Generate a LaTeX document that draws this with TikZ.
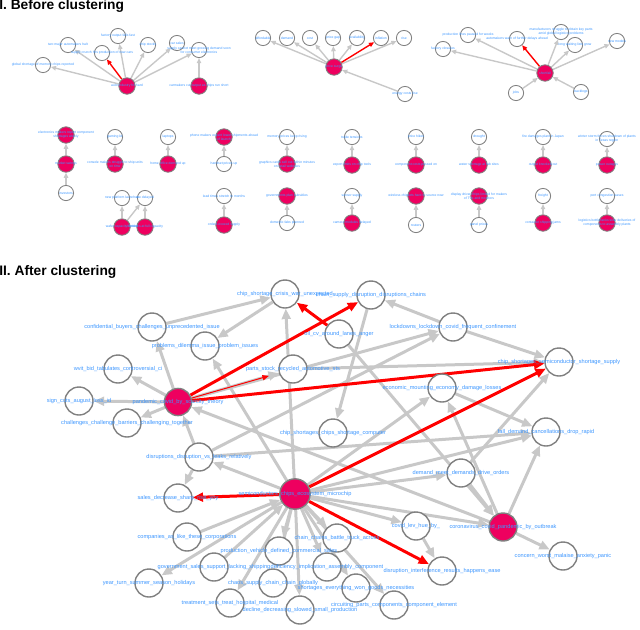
\documentclass[tikz,border=0pt]{standalone}
\usepackage{fontspec}
\setmainfont{Liberation Sans}
\usepackage{xcolor}
\usetikzlibrary{arrows.meta}

\definecolor{ringgray}{RGB}{128,128,128}
\definecolor{edgegray}{RGB}{200,200,200}
\definecolor{nodepink}{RGB}{238,0,95}
\definecolor{lblblue}{RGB}{60,150,255}

\pgfdeclarelayer{edges}
\pgfsetlayers{edges,main}

\begin{document}
\begin{tikzpicture}[x=0.25mm, y=-0.25mm,
    gnode/.style={circle, draw=ringgray, line width=0.35mm, fill=white, minimum size=7mm, inner sep=0pt},
    pnode/.style={gnode, fill=nodepink},
    snode/.style={circle, draw=ringgray, line width=0.22mm, fill=white, minimum size=3.8mm, inner sep=0pt},
    spnode/.style={snode, fill=nodepink, minimum size=4.1mm},
    lbl/.style={text=lblblue, font=\fontsize{4}{4.5}\selectfont, inner sep=0pt},
    slbl/.style={text=lblblue, font=\fontsize{2.4}{2.8}\selectfont, inner sep=0pt, align=center},
    gedge/.style={draw=edgegray, line width=0.75mm, -{Triangle[length=2.6mm, width=2.2mm]}},
    redge/.style={gedge, draw=red},
    sedge/.style={draw=edgegray, line width=0.35mm, -{Triangle[length=1.3mm, width=1.1mm]}},
    sredge/.style={sedge, draw=red},
    title/.style={font=\fontsize{9.8}{12}\selectfont\bfseries, anchor=base west, inner sep=0pt}]
    \useasboundingbox (0,0) rectangle (640,629);

    % Titles
    \node[title] (t1) at (-1,9) {I. Before clustering};
    \node[title] (t2) at (-1,275.5) {II. After clustering};

    % Before clustering: first cluster
    \node[snode] (a1) at (43,65) {};
    \node[snode] (a2) at (68,45) {};
    \node[snode] (a3) at (118,36) {};
    \node[snode] (a4) at (102,53) {};
    \node[snode] (a5) at (148,45) {};
    \node[snode] (a6) at (177,43) {};
    \node[snode] (a7) at (199,50) {};
    \node[spnode] (a8) at (127,86) {};
    \node[spnode] (a9) at (199,86) {};

    % Before clustering: second cluster
    \node[snode] (b1) at (263,38) {};
    \node[snode] (b2) at (287,38) {};
    \node[snode] (b3) at (310,38) {};
    \node[snode] (b4) at (333,38) {};
    \node[snode] (b5) at (357,38) {};
    \node[snode] (b6) at (381,38) {};
    \node[snode] (b7) at (404,38) {};
    \node[spnode] (b8) at (334,67) {};
    \node[snode] (b9) at (405,94) {};

    % Before clustering: third cluster
    \node[snode] (c1) at (443,49) {};
    \node[snode] (c2) at (468,35) {};
    \node[snode] (c3) at (517,39) {};
    \node[snode] (c4) at (561,32) {};
    \node[snode] (c5) at (575,45) {};
    \node[snode] (c6) at (617,41) {};
    \node[spnode] (c7) at (545,73) {};
    \node[snode] (c8) at (516,93) {};
    \node[snode] (c9) at (581,92) {};

    % Before clustering: small pairs
    \node[spnode] (d1) at (66,135) {};
    \node[spnode] (d2) at (66,164) {};
    \node[snode] (d3) at (66,193) {};
    \node[snode] (e1) at (115,137) {};
    \node[spnode] (e2) at (115,164) {};
    \node[snode] (f1) at (168,137) {};
    \node[spnode] (f2) at (168,164) {};
    \node[spnode] (g1) at (224,137) {};
    \node[snode] (g2) at (224,164) {};
    \node[snode] (h1) at (287,137) {};
    \node[spnode] (h2) at (287,164) {};
    \node[snode] (i1) at (122,198) {};
    \node[snode] (i2) at (145,198) {};
    \node[spnode] (i3) at (122,227) {};
    \node[spnode] (i4) at (145,227) {};
    \node[snode] (j1) at (224,196) {};
    \node[spnode] (j2) at (224,225) {};
    \node[spnode] (k1) at (287,196) {};
    \node[snode] (k2) at (287,223) {};
    \node[snode] (l1) at (352,137) {};
    \node[spnode] (l2) at (352,165) {};
    \node[snode] (m1) at (416,137) {};
    \node[spnode] (m2) at (416,165) {};
    \node[snode] (n1) at (479,137) {};
    \node[spnode] (n2) at (479,165) {};
    \node[snode] (o1) at (543,137) {};
    \node[spnode] (o2) at (543,165) {};
    \node[snode] (p1) at (607,139) {};
    \node[spnode] (p2) at (607,165) {};
    \node[snode] (q1) at (352,196) {};
    \node[spnode] (q2) at (352,223) {};
    \node[spnode] (r1) at (416,196) {};
    \node[snode] (r2) at (416,225) {};
    \node[spnode] (s1) at (479,196) {};
    \node[snode] (s2) at (479,225) {};
    \node[snode] (u1) at (543,196) {};
    \node[spnode] (u2) at (543,223) {};
    \node[snode] (v1) at (607,196) {};
    \node[spnode] (v2) at (607,223) {};

    % After clustering
    \node[pnode, minimum size=6.8mm] (pandemic) at (178,402) {};
    \node[pnode, minimum size=7.6mm] (semichips) at (295,494) {};
    \node[pnode] (corona) at (503,527) {};
    \node[gnode] (crisis) at (285,294) {};
    \node[gnode] (chainsup) at (371,295) {};
    \node[gnode] (confid) at (152,327) {};
    \node[gnode] (problems) at (205,346) {};
    \node[gnode] (oilcv) at (339,334) {};
    \node[gnode] (lockdown) at (453,327) {};
    \node[gnode] (chipsemi) at (559,362) {};
    \node[gnode] (wvit) at (118,369) {};
    \node[gnode] (parts) at (293,369) {};
    \node[gnode] (signcuts) at (79,401) {};
    \node[gnode] (economic) at (442,388) {};
    \node[gnode] (challenges) at (127,423) {};
    \node[gnode] (falldem) at (546,432) {};
    \node[gnode] (chipcomp) at (333,433) {};
    \node[gnode] (disrupt) at (199,457) {};
    \node[gnode] (demand) at (461,473) {};
    \node[gnode] (sales) at (178,498) {};
    \node[gnode] (covidlev) at (416,526) {};
    \node[gnode] (companies) at (187,537) {};
    \node[gnode] (chains) at (337,538) {};
    \node[gnode] (production) at (279,551) {};
    \node[gnode] (concern) at (563,556) {};
    \node[gnode] (govt) at (214,567) {};
    \node[gnode] (deficiency) at (327,567) {};
    \node[gnode] (interfer) at (442,571) {};
    \node[gnode] (yearturn) at (149,583) {};
    \node[gnode] (chaos) at (273,583) {};
    \node[gnode] (shortages) at (356,588) {};
    \node[gnode] (treatment) at (230,603) {};
    \node[gnode] (circuit) at (394,605) {};
    \node[gnode] (decline) at (300,610) {};

    \begin{pgfonlayer}{edges}
    % Before clustering edges
    \foreach \t in {a1,a2,a3,a5,a6,a7} \draw[sedge] (a8) -- (\t);
    \draw[sredge] (a8) -- (a4);
    \draw[sedge] (a9) -- (a7);
    \foreach \t in {b1,b2,b3,b4,b5,b7} \draw[sedge] (b8) -- (\t);
    \draw[sredge] (b8) -- (b6);
    \draw[sedge] (b9) -- (b8);
    \foreach \t in {c1,c2,c4,c5,c6} \draw[sedge] (c7) -- (\t);
    \draw[sredge] (c7) -- (c3);
    \draw[sedge] (c8) -- (c7);
    \draw[sedge] (c9) -- (c7);
    \draw[sedge] (d3) -- (d2);
    \draw[sedge] (d2) -- (d1);
    \foreach \s/\t in {e2/e1, f2/f1, g2/g1, h2/h1, i3/i1, i3/i2, i4/i2, j2/j1, k2/k1,
        l2/l1, m2/m1, n2/n1, o2/o1, p2/p1, q2/q1, r2/r1, s2/s1, u2/u1, v2/v1}
        \draw[sedge] (\s) -- (\t);

    % After clustering edges
    \draw[gedge] (confid) -- (crisis);
    \draw[gedge] (crisis) -- (problems);
    \foreach \t in {confid,wvit,signcuts,challenges,lockdown,parts}
        \draw[gedge] (pandemic) -- (\t);
    \draw[gedge] (corona) -- (pandemic);
    \draw[gedge] (disrupt) -- (pandemic);
    \foreach \t in {crisis,problems,disrupt,economic,demand,falldem,covidlev,corona,
        yearturn,treatment,decline,chaos,production,deficiency,chains,shortages,circuit}
        \draw[gedge] (semichips) -- (\t);
    \draw[gedge] (companies) -- (semichips);
    \draw[gedge] (govt) -- (semichips);
    \draw[gedge] (disrupt) -- (sales);
    \draw[gedge] (disrupt) -- (lockdown);
    \draw[gedge] (disrupt) -- (falldem);
    \draw[gedge] (chainsup) -- (chipcomp);
    \draw[gedge] (lockdown) -- (chainsup);
    \draw[gedge] (lockdown) -- (chipsemi);
    \draw[gedge] (parts) -- (chipsemi);
    \draw[gedge] (economic) -- (falldem);
    \draw[gedge] (corona) -- (economic);
    \draw[gedge] (oilcv) -- (corona);
    \draw[gedge] (demand) -- (corona);
    \draw[gedge] (demand) -- (chipsemi);
    \draw[gedge] (corona) -- (falldem);
    \draw[gedge] (corona) -- (concern);
    \draw[gedge] (covidlev) -- (interfer);
    \draw[redge, line width=0.25mm, -{Triangle[length=1.6mm, width=1.3mm]}, shorten >=2.6mm] (pandemic) -- (parts);
    \draw[redge] (pandemic) -- (chainsup);
    \draw[redge] (pandemic) -- (chipsemi);
    \draw[redge] (oilcv) -- (crisis);
    \draw[redge] (semichips) -- (chipsemi);
    \draw[redge] (semichips) -- (sales);
    \draw[redge] (semichips) -- (interfer);
    \end{pgfonlayer}

    % Before clustering labels
    \node[slbl] at (a1) {global shortage of memory chips reported};
    \node[slbl] at (a2) {two major automakers halt};
    \node[slbl] at (a3) {factory output falls fast};
    \node[slbl] at (a4) {supply crunch hits production of new cars};
    \node[slbl] at (a5) {chip stocks};
    \node[slbl] at (a6) {car sales};
    \node[slbl] at (a7) {supply cannot meet growing demand soon\\for consumer electronics};
    \node[slbl] at (a8) {auto industry hit hard};
    \node[slbl] at (a9) {carmakers cut output as chips run short};
    \node[slbl] at (b1) {affordable};
    \node[slbl] at (b2) {demand};
    \node[slbl] at (b3) {cost};
    \node[slbl] at (b4) {price gap};
    \node[slbl] at (b5) {availability};
    \node[slbl] at (b6) {inflation};
    \node[slbl] at (b7) {rise};
    \node[slbl] at (b8) {price surge};
    \node[slbl] at (b9) {energy costs rise};
    \node[slbl] at (c1) {factory closures};
    \node[slbl] at (c2) {production lines paused for weeks};
    \node[slbl] at (c3) {automakers warn of further delays ahead};
    \node[slbl] at (c4) {manufacturers struggle to obtain key parts\\amid global logistics problems};
    \node[slbl] at (c5) {long waiting lists grow};
    \node[slbl] at (c6) {new models};
    \node[slbl] at (c7) {shortfall};
    \node[slbl] at (c8) {jobs};
    \node[slbl] at (c9) {backlogs};
    \node[slbl] at (d1) {electronics makers report component\\shortages widely};
    \node[slbl] at (d2) {market swings};
    \node[slbl] at (d3) {investors};
    \node[slbl] at (e1) {gaming kit};
    \node[slbl] at (e2) {console makers struggle to ship units\\on time};
    \node[slbl] at (f1) {laptops};
    \node[slbl] at (f2) {home office demand up};
    \node[slbl] at (g1) {phone makers expect lower shipments ahead\\of launch};
    \node[slbl] at (g2) {handset prices up};
    \node[slbl] at (h1) {memory prices keep rising};
    \node[slbl] at (h2) {graphics cards sell out within minutes\\on retail websites};
    \node[slbl] at (i1) {new platform launches};
    \node[slbl] at (i2) {are delayed};
    \node[slbl] at (i3) {wafer capacity limited};
    \node[slbl] at (i4) {foundries at full capacity};
    \node[slbl] at (j1) {lead times stretch to months};
    \node[slbl] at (j2) {orders exceed supply};
    \node[slbl] at (k1) {governments plan subsidies};
    \node[slbl] at (k2) {domestic fabs planned};
    \node[slbl] at (l1) {trade tensions};
    \node[slbl] at (l2) {export limits on chip tools};
    \node[slbl] at (m1) {price hikes};
    \node[slbl] at (m2) {component costs passed on};
    \node[slbl] at (n1) {drought};
    \node[slbl] at (n2) {water shortage at fab sites};
    \node[slbl] at (o1) {fire damages plant in Japan};
    \node[slbl] at (o2) {output knocked out};
    \node[slbl] at (p1) {winter storm forces shutdown of plants\\in Texas region};
    \node[slbl] at (p2) {power outages};
    \node[slbl] at (q1) {sensor supply};
    \node[slbl] at (q2) {camera modules delayed};
    \node[slbl] at (r1) {wireless chipsets hard to source now};
    \node[slbl] at (r2) {routers};
    \node[slbl] at (s1) {display driver chips limited for makers\\of TVs and monitors};
    \node[slbl] at (s2) {panel prices};
    \node[slbl] at (u1) {freight};
    \node[slbl] at (u2) {container shipping jams};
    \node[slbl] at (v1) {port congestion eases};
    \node[slbl] at (v2) {logistics bottlenecks slow deliveries of\\components to assembly plants};

    % After clustering labels
    \node[lbl] at (pandemic) {pandemic\_covid\_by\_scarcity\_theory};
    \node[lbl] at (semichips) {semiconductors\_chips\_ecosystem\_microchip};
    \node[lbl] at (corona) {coronavirus\_covid\_pandemic\_by\_outbreak};
    \node[lbl] at (crisis) {chip\_shortage\_crisis\_war\_unexpected};
    \node[lbl] at (chainsup) {chain\_supply\_disruption\_disruptions\_chains};
    \node[lbl] at (confid) {confidential\_buyers\_challenges\_unprecedented\_issue};
    \node[lbl] at (problems) {problems\_dilemma\_issue\_problem\_issues};
    \node[lbl] at (oilcv) {oil\_cv\_around\_lanes\_anger};
    \node[lbl] at (lockdown) {lockdowns\_lockdown\_covid\_frequent\_confinement};
    \node[lbl] at (chipsemi) {chip\_shortages\_semiconductor\_shortage\_supply};
    \node[lbl] at (wvit) {wvit\_bid\_tabulates\_controversial\_ci};
    \node[lbl] at (parts) {parts\_stock\_recycled\_automotive\_sts};
    \node[lbl] at (signcuts) {sign\_cuts\_august\_loss\_id};
    \node[lbl] at (economic) {economic\_mounting\_economy\_damage\_losses};
    \node[lbl] at (challenges) {challenges\_challenge\_barriers\_challenging\_together};
    \node[lbl] at (falldem) {fall\_demand\_cancellations\_drop\_rapid};
    \node[lbl] at (chipcomp) {chip\_shortages\_chips\_shortage\_computer};
    \node[lbl] at (disrupt) {disruptions\_disruption\_vs\_leaks\_relatively};
    \node[lbl] at (demand) {demand\_meet\_demands\_drive\_orders};
    \node[lbl] at (sales) {sales\_decrease\_sharp\_rise\_yoy};
    \node[lbl] at (covidlev) {covid\_lev\_hue\_by\_};
    \node[lbl] at (companies) {companies\_as\_like\_these\_corporations};
    \node[lbl] at (chains) {chain\_chains\_battle\_truck\_across};
    \node[lbl] at (production) {production\_vehicle\_defined\_commercial\_sales};
    \node[lbl] at (concern) {concern\_worst\_malaise\_anxiety\_panic};
    \node[lbl] at (govt) {government\_sales\_support\_lacking\_shipping};
    \node[lbl] at (deficiency) {deficiency\_implication\_assembly\_component};
    \node[lbl] at (interfer) {disruption\_interference\_results\_happens\_ease};
    \node[lbl] at (yearturn) {year\_turn\_summer\_season\_holidays};
    \node[lbl] at (chaos) {chaos\_supply\_chain\_chain\_globally};
    \node[lbl] at (shortages) {shortages\_everything\_won\_goods\_necessities};
    \node[lbl] at (treatment) {treatment\_sets\_treat\_hospital\_medical};
    \node[lbl] at (circuit) {circuiting\_parts\_components\_component\_element};
    \node[lbl] at (decline) {decline\_decreasing\_slowed\_small\_production};
\end{tikzpicture}
\end{document}
